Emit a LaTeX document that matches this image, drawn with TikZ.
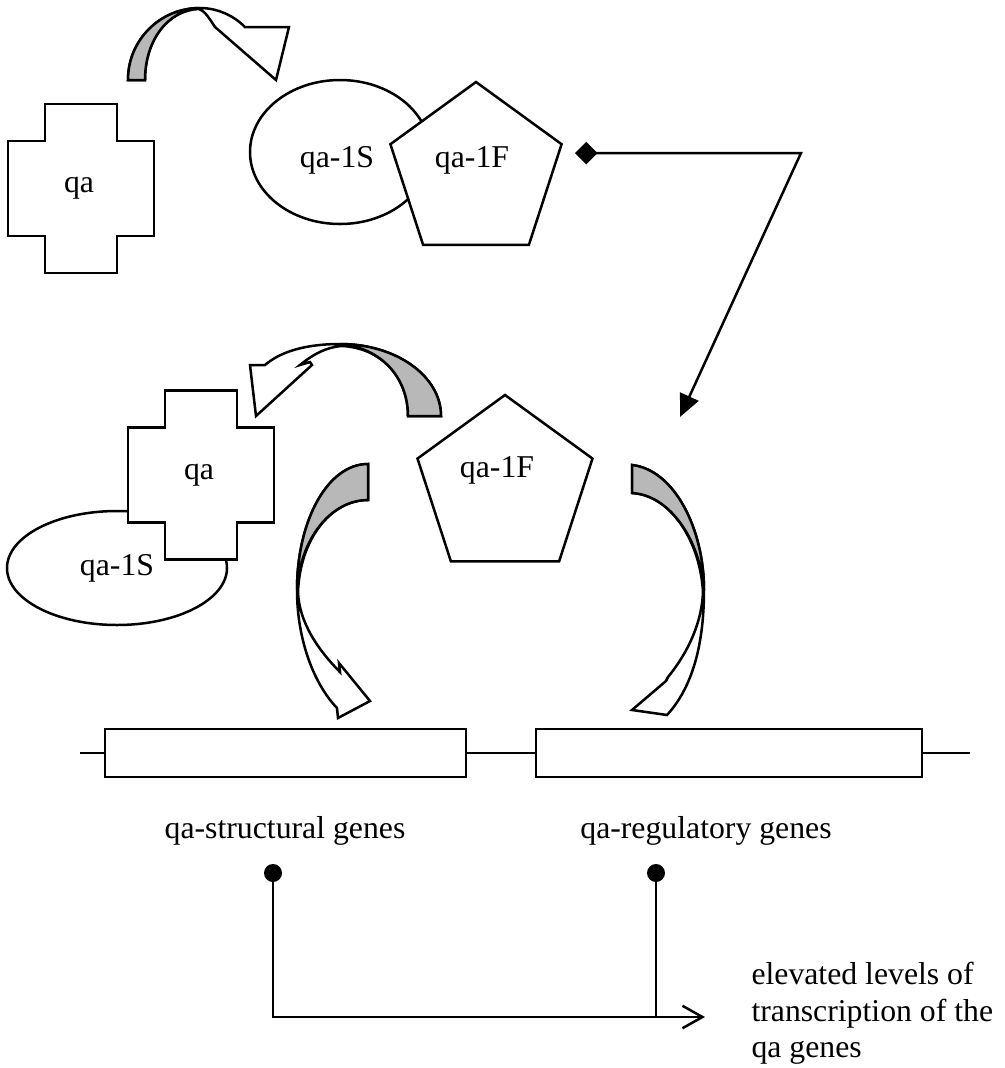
\documentclass[tikz,border=0pt]{standalone}
\usepackage{fontspec}
\setmainfont{Liberation Serif}
\usetikzlibrary{arrows.meta,shapes.geometric}
\definecolor{bandgray}{gray}{0.72}

\tikzset{
  every node/.style={font=\fontsize{12.7}{14.6}\selectfont},
  outline/.style={draw=black, line width=1pt, fill=white, line join=miter},
  band/.style={draw=black, line width=1pt, fill=bandgray, line join=miter},
  blob/.style={ellipse, outline, inner sep=0pt},
  pent/.style={regular polygon, regular polygon sides=5, outline, inner sep=0pt},
  genebox/.style={rectangle, outline, inner sep=0pt, minimum height=19.2pt},
  dot/.style={circle, fill=black, inner sep=0pt, minimum size=7.2pt},
  link/.style={line width=1pt}
}

\begin{document}
\begin{tikzpicture}[x=0.4pt, y=-0.4pt]
  \useasboundingbox (0,0) rectangle (1005,1068);

  % complex at the top
  \node[blob, minimum width=72pt, minimum height=57.6pt] (sTop) at (340,152) {};
  \node (sTopLbl) at (337,160) {qa-1S};
  \node[pent, minimum size=72pt] (fTop) at (476,172) {};
  \node (fTopLbl) at (472,160) {qa-1F};

  % complex in the middle
  \node[blob, minimum width=88pt, minimum height=45.6pt] (sMid) at (117,568) {qa-1S};
  \foreach \cx/\cy/\nm in {81/188.5/qaTop, 201/475/qaMid} {
    \draw[outline] (\cx,\cy) ++(-36,-84.5) -- ++(72,0) -- ++(0,37) -- ++(37,0)
      -- ++(0,95) -- ++(-37,0) -- ++(0,37) -- ++(-72,0) -- ++(0,-37)
      -- ++(-37,0) -- ++(0,-95) -- ++(37,0) -- cycle;
    \node (\nm) at (\cx-2,\cy) {qa};
  }
  \node[pent, minimum size=73.6pt] (fMid) at (505,487) {};
  \node (fMidLbl) at (497,470) {qa-1F};

  % curved block arrows
  \draw[outline] (128,80) .. controls (128,40) and (160,8) .. (200,8)
    .. controls (218,8) and (234,16) .. (245,27) -- (289,27) -- (276,80) -- (215,27)
    .. controls (209,18) and (205,11) .. (199,9)
    .. controls (168,10) and (145,40) .. (145,80) -- cycle;
  \draw[band] (128,80) .. controls (128,40) and (160,8) .. (200,8)
    .. controls (168,10) and (145,40) .. (145,80) -- cycle;

  \draw[outline] (441,416) .. controls (441,376) and (396,344) .. (340,344)
    .. controls (305,344) and (280,352) .. (265,365) -- (250,365) -- (256,416)
    -- (312,365) -- (310,362) -- (300,365)
    .. controls (312,355) and (326,347) .. (342,346)
    .. controls (382,348) and (408,378) .. (408,416) -- cycle;
  \draw[band] (441,416) .. controls (441,376) and (396,344) .. (340,344)
    .. controls (382,348) and (408,378) .. (408,416) -- cycle;

  \draw[outline] (368,464) .. controls (328,464) and (297,520) .. (297,590)
    .. controls (297,640) and (314,684) .. (337,708) -- (338,718) -- (370,701)
    -- (339,663) -- (340,672)
    .. controls (318,650) and (299,622) .. (298,592)
    .. controls (300,540) and (330,500) .. (368,500) -- cycle;
  \draw[band] (368,464) .. controls (328,464) and (297,520) .. (297,590)
    .. controls (300,540) and (330,500) .. (368,500) -- cycle;

  \draw[outline] (632,465) .. controls (675,470) and (704,530) .. (704,590)
    .. controls (704,650) and (690,690) .. (667,715) -- (632,710) -- (666,681)
    -- (668,677)
    .. controls (690,650) and (702,620) .. (703,592)
    .. controls (700,540) and (670,495) .. (632,493) -- cycle;
  \draw[band] (632,465) .. controls (675,470) and (704,530) .. (704,590)
    .. controls (700,540) and (670,495) .. (632,493) -- cycle;

  % release of qa-1F
  \coordinate (relStart) at (575,153);
  \coordinate (relBend) at (801,153);
  \coordinate (relEnd) at (680,417);
  \draw[link, {Diamond[length=9pt,width=9pt]}-{Triangle[length=9pt,width=8pt]}]
    (relStart) -- (relBend) -- (relEnd);

  % genes
  \coordinate (dnaL) at (80,753);
  \coordinate (dnaR) at (970,753);
  \node[genebox, minimum width=144.4pt] (sGenes) at (285.5,753) {};
  \node[genebox, minimum width=154.4pt] (rGenes) at (729,753) {};
  \draw[link] (dnaL) -- (sGenes.west);
  \draw[link] (sGenes.east) -- (rGenes.west);
  \draw[link] (rGenes.east) -- (dnaR);
  \node (sLbl) at (285,831) {qa-structural genes};
  \node (rLbl) at (706,831) {qa-regulatory genes};

  % transcription
  \node[dot] (sDot) at (273,873) {};
  \node[dot] (rDot) at (656,873) {};
  \coordinate (outTip) at (705,1017);
  \draw[link, -{Straight Barb[length=8pt,width=9pt]}] (sDot.center) |- (outTip);
  \draw[link] (rDot.center) -- (rDot |- outTip);
  \node[anchor=north west, align=left, inner sep=0pt] (outLbl) at (751,962)
    {elevated levels of\\transcription of the\\qa genes};
\end{tikzpicture}
\end{document}
